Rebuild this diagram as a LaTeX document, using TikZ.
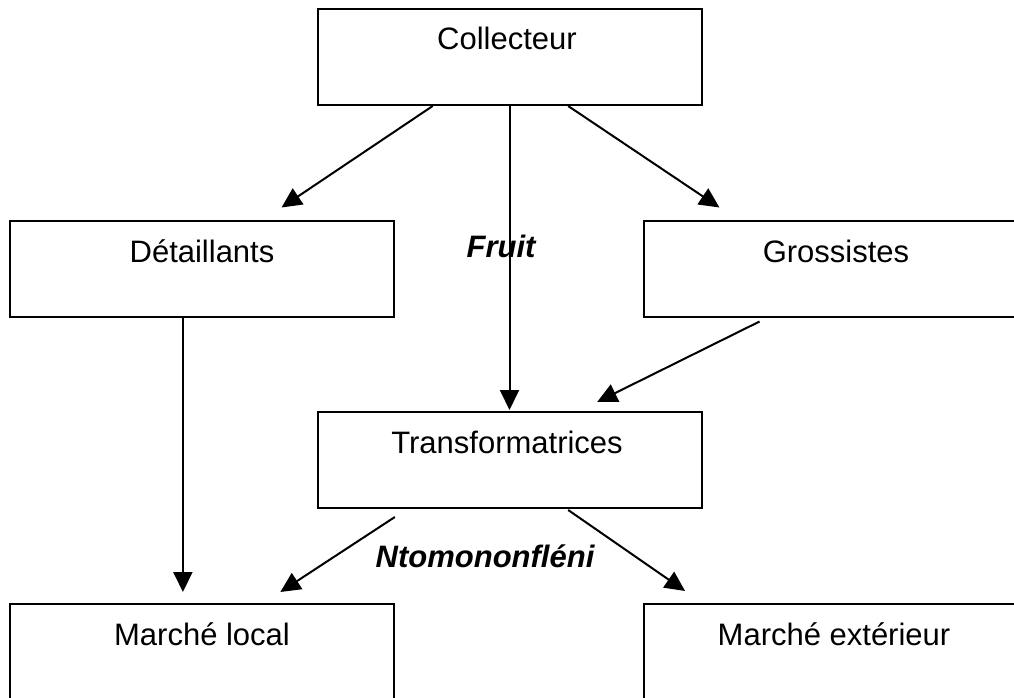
\documentclass[tikz,border=0pt]{standalone}
\usepackage{fontspec}
\setmainfont{Liberation Sans}
\usetikzlibrary{arrows.meta,calc}
\begin{document}
\begin{tikzpicture}[x=1pt,y=-1pt,
  box/.style={draw, line width=2pt, rectangle, inner sep=0pt, minimum width=384pt, minimum height=96pt},
  lbl/.style={font=\fontsize{31}{37}\selectfont, anchor=base, inner sep=0pt},
  tag/.style={font=\fontsize{31}{37}\selectfont\bfseries\itshape, anchor=base, inner sep=0pt},
  arr/.style={line width=2pt, -{Triangle[length=20pt,width=19pt]}}]
\clip (0,0) rectangle (1014,698);
\fill[white] (0,0) rectangle (1014,698);
% boxes
\node[box] (coll) at (509.5,57) {};
\node[box] (det) at (202,268.5) {};
\node[box] (gros) at (836,268.5) {};
\node[box] (trans) at (509.5,460) {};
\node[box] (ml) at (202,652) {};
\node[box] (me) at (836,652) {};
% texts
\node[lbl] (collT) at (507,50) {Collecteur};
\node[lbl] (detT) at (202,262) {Détaillants};
\node[lbl] (grosT) at (836,262) {Grossistes};
\node[lbl] (transT) at (507,453) {Transformatrices};
\node[lbl] (mlT) at (202,645) {Marché local};
\node[lbl] (meT) at (834,645) {Marché extérieur};
\node[tag] (fruit) at (501,257) {Fruit};
\node[tag] (ntomo) at (485,567) {Ntomononfléni};
% connectors
\draw[arr] ($(coll.south west)!0.301!(coll.south east)$) -- ($(det.north west)!0.706!(det.north east)+(0,-12)$);
\draw[arr] (coll.south) -- ($(trans.north)+(0,-1)$);
\draw[arr] ($(coll.south west)!0.652!(coll.south east)$) -- ($(gros.north west)!0.198!(gros.north east)+(0,-12)$);
\draw[arr] ($(det.south west)!0.4505!(det.south east)$) -- ($(ml.north west)!0.4505!(ml.north east)+(0,-11)$);
\draw[arr] ($(gros.south west)!0.302!(gros.south east)+(0,4)$) -- ($(trans.north west)!0.727!(trans.north east)+(0,-9)$);
\draw[arr] ($(trans.south west)!0.203!(trans.south east)+(0,8)$) -- ($(ml.north west)!0.703!(ml.north east)+(0,-11)$);
\draw[arr] ($(trans.south west)!0.652!(trans.south east)+(0,1)$) -- ($(me.north west)!0.109!(me.north east)+(0,-12)$);
\end{tikzpicture}
\end{document}
